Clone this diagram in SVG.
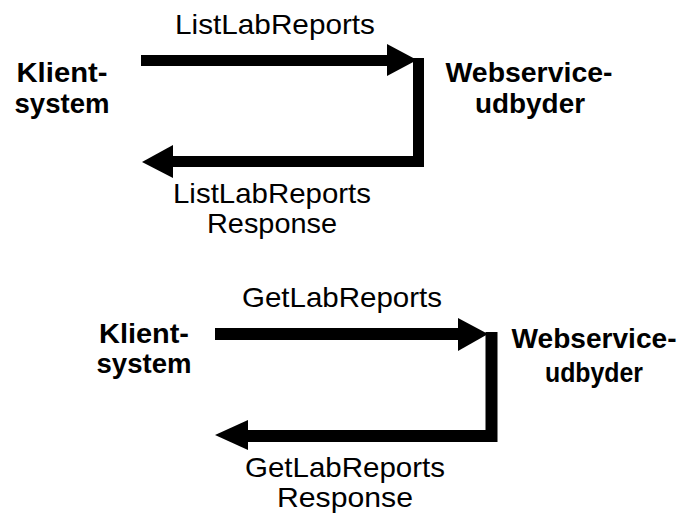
<svg xmlns="http://www.w3.org/2000/svg" width="688" height="518" viewBox="0 0 688 518">
<style>
.lbl{font-family:"Liberation Sans",Arial,sans-serif;font-size:28px;fill:#000;text-anchor:middle}
.node{font-family:"Liberation Sans",Arial,sans-serif;font-size:27px;font-weight:bold;fill:#000;text-anchor:middle}
.ln{fill:none;stroke:#000;stroke-width:11;stroke-linejoin:miter}
.hd{fill:#000}
</style>
<rect width="688" height="518" fill="#fff"/>
<g id="klient1"><text class="node" x="62" y="82" textLength="91" lengthAdjust="spacingAndGlyphs">Klient-</text><text class="node" x="62" y="113" textLength="95" lengthAdjust="spacingAndGlyphs">system</text></g>
<g id="webservice1"><text class="node" x="529" y="82" textLength="167" lengthAdjust="spacingAndGlyphs">Webservice-</text><text class="node" x="530" y="113" textLength="110" lengthAdjust="spacingAndGlyphs">udbyder</text></g>
<g id="klient2"><text class="node" x="144" y="343" textLength="90" lengthAdjust="spacingAndGlyphs">Klient-</text><text class="node" x="144" y="373" textLength="95" lengthAdjust="spacingAndGlyphs">system</text></g>
<g id="webservice2"><text class="node" x="594" y="348" textLength="165" lengthAdjust="spacingAndGlyphs">Webservice-</text><text class="node" x="594" y="382" textLength="98" lengthAdjust="spacingAndGlyphs">udbyder</text></g>
<g id="connectors">
<path class="ln" d="M141,60.5 H390"/>
<polygon class="hd" points="387,44 417,60 387,76"/>
<path class="ln" d="M418.5,58 V161.5 H170"/>
<polygon class="hd" points="173,145 142,162 173,178"/>
<text class="lbl" x="275" y="34" textLength="200" lengthAdjust="spacingAndGlyphs">ListLabReports</text>
<text class="lbl" x="272" y="203" textLength="198" lengthAdjust="spacingAndGlyphs">ListLabReports</text>
<text class="lbl" x="272" y="233" textLength="130" lengthAdjust="spacingAndGlyphs">Response</text>
<path class="ln" d="M215,334 H461" style="stroke-width:12"/>
<polygon class="hd" points="458,318 488,334 458,351"/>
<path class="ln" d="M491.5,332 V436 H245" style="stroke-width:12"/>
<polygon class="hd" points="248,420 215,435 248,450"/>
<text class="lbl" x="342" y="307" textLength="200" lengthAdjust="spacingAndGlyphs">GetLabReports</text>
<text class="lbl" x="345" y="477" textLength="200" lengthAdjust="spacingAndGlyphs">GetLabReports</text>
<text class="lbl" x="345" y="507" textLength="136" lengthAdjust="spacingAndGlyphs">Response</text>
</g>
</svg>
